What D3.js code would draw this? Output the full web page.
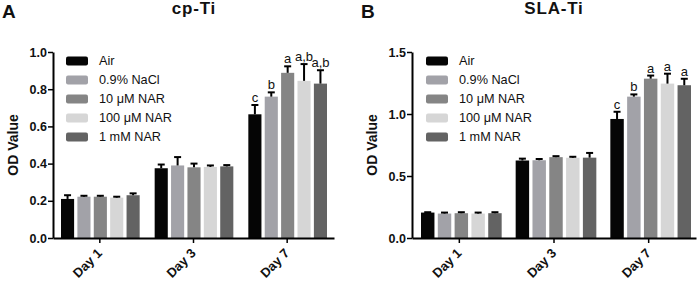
<!DOCTYPE html>
<html><head><meta charset="utf-8">
<script src="https://cdn.jsdelivr.net/npm/d3@7"></script>
<style>body{margin:0;background:#fff}svg{display:block}text{font-family:"Liberation Sans",Arial,sans-serif}</style>
</head><body><svg id="c" width="699" height="282"></svg>
<script>
const days = ["Day 1", "Day 3", "Day 7"];
const groups = ["Air", "0.9% NaCl", "10 μM NAR", "100 μM NAR", "1 mM NAR"];
const colors = ["#050505", "#a2a2a8", "#858585", "#d6d6d6", "#636363"];
// Panel A: cp-Ti  (rows = days, columns = groups)
const cpMean = [[0.21, 0.222, 0.222, 0.217, 0.23],
                [0.375, 0.39, 0.38, 0.382, 0.385],
                [0.665, 0.76, 0.888, 0.845, 0.83]];
const cpErr  = [[0.02, 0.005, 0.005, 0.005, 0.01],
                [0.02, 0.045, 0.02, 0.008, 0.007],
                [0.05, 0.023, 0.035, 0.09, 0.072]];
const cpLabels = ["c", "b", "a", "a,b", "a,b"];
const cpTicks = [0.0, 0.2, 0.4, 0.6, 0.8, 1.0];
// Panel B: SLA-Ti
const slaMean = [[0.205, 0.197, 0.2, 0.197, 0.2],
                 [0.625, 0.627, 0.652, 0.647, 0.648],
                 [0.96, 1.14, 1.285, 1.245, 1.232]];
const slaErr  = [[0.003, 0.008, 0.008, 0.008, 0.008],
                 [0.015, 0.01, 0.008, 0.008, 0.038],
                 [0.058, 0.018, 0.025, 0.08, 0.052]];
const slaLabels = ["c", "b", "a", "a", "a"];
const slaTicks = [0.0, 0.5, 1.0, 1.5];

const svg = d3.select("#c");

function panel(o) {
  const g = svg.append("g");
  const y = d3.scaleLinear().domain([0, o.max]).range([238, 52]);
  const x0 = d3.scaleBand().domain(days).range([o.x0, o.x1]).paddingInner(0).paddingOuter(0);
  const x1 = d3.scaleBand().domain(groups).range([o.inL, x0.bandwidth() - o.inR]).paddingInner(0.2).paddingOuter(0);

  days.forEach((d, i) => {
    const gg = g.append("g").attr("transform", `translate(${x0(d)},0)`);
    groups.forEach((s, j) => {
      const v = o.mean[i][j], e = o.err[i][j];
      const bx = x1(s), bw = x1.bandwidth();
      gg.append("rect").attr("x", bx).attr("y", y(v)).attr("width", bw)
        .attr("height", y(0) - y(v)).attr("fill", colors[j]);
      const cx = bx + bw / 2;
      gg.append("line").attr("x1", cx).attr("x2", cx).attr("y1", y(v)).attr("y2", y(v + e))
        .attr("stroke", "#000").attr("stroke-width", 2);
      gg.append("line").attr("x1", cx - 3.5).attr("x2", cx + 3.5).attr("y1", y(v + e)).attr("y2", y(v + e))
        .attr("stroke", "#000").attr("stroke-width", 2);
      if (i === 2) {
        gg.append("text").attr("x", cx).attr("y", y(v + e) - 3).attr("text-anchor", "middle")
          .attr("font-size", 13).attr("fill", "#111").text(o.labels[j]);
      }
    });
  });

  const ya = g.append("g").attr("transform", `translate(${o.x0},0)`)
    .call(d3.axisLeft(y).tickValues(o.ticks).tickFormat(d3.format(".1f")).tickSize(5).tickSizeOuter(0));
  ya.select(".domain").attr("stroke-width", 2);
  ya.selectAll(".tick line").attr("stroke-width", 1.5);
  ya.selectAll("text").attr("font-size", 12.5).attr("font-weight", "bold").attr("fill", "#111").attr("x", -6)
    .style("font-family", "'Liberation Sans',Arial,sans-serif");

  const xa = g.append("g").attr("transform", `translate(0,238)`)
    .call(d3.axisBottom(x0).tickSize(5).tickSizeOuter(0));
  xa.select(".domain").attr("stroke-width", 2);
  xa.selectAll(".tick line").attr("stroke-width", 1.5);
  xa.selectAll("text").attr("font-size", 13).attr("font-weight", "bold").attr("fill", "#111")
    .style("font-family", "'Liberation Sans',Arial,sans-serif")
    .attr("text-anchor", "end").attr("dy", 0).attr("y", 0)
    .attr("transform", "translate(3,16) rotate(-45)");

  g.append("text").attr("transform", `translate(${o.titleX},145) rotate(-90)`).attr("text-anchor", "middle")
    .attr("dy", "0.35em").attr("font-size", 14).attr("font-weight", "bold").attr("fill", "#111").text("OD Value");

  g.append("text").attr("x", o.letterX).attr("y", 18).attr("font-size", 19).attr("font-weight", "bold")
    .attr("fill", "#111").text(o.letter);
  g.append("text").attr("x", o.headX).attr("y", 14).attr("text-anchor", "middle").attr("font-size", 17)
    .attr("letter-spacing", 0.8).attr("font-weight", "bold").attr("fill", "#111").text(o.title);

  const lg = g.append("g");
  groups.forEach((s, j) => {
    const ly = 61 + j * 19;
    lg.append("rect").attr("x", o.legX).attr("y", ly - 4.5).attr("width", 22).attr("height", 9)
      .attr("rx", 2).attr("fill", colors[j]);
    lg.append("text").attr("x", o.legX + 33).attr("y", ly).attr("dy", "0.35em").attr("font-size", 12.7)
      .attr("fill", "#111").text(s);
  });
}

panel({mean: cpMean, err: cpErr, labels: cpLabels, ticks: cpTicks, max: 1.0,
  x0: 53, x1: 334, inL: 8, inR: 7, titleX: 13, letter: "A", letterX: 2, title: "cp-Ti", headX: 194, legX: 66});
panel({mean: slaMean, err: slaErr, labels: slaLabels, ticks: slaTicks, max: 1.5,
  x0: 412, x1: 696, inL: 9, inR: 5, titleX: 372, letter: "B", letterX: 361, title: "SLA-Ti", headX: 554, legX: 426});
</script></body></html>
